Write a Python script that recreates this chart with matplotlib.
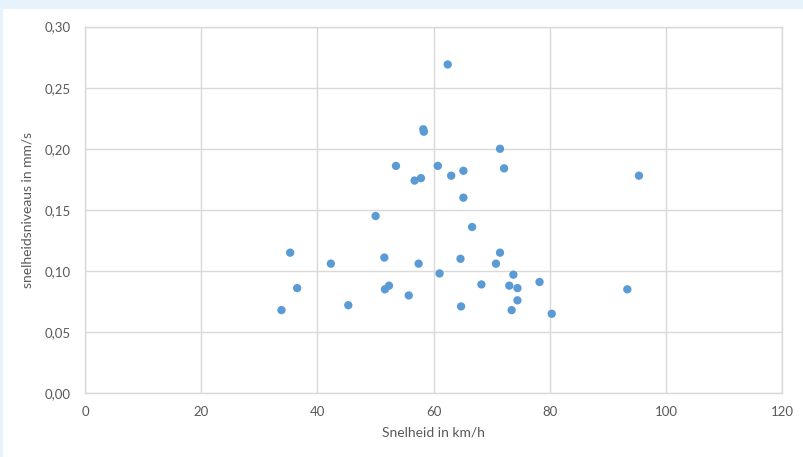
import matplotlib
matplotlib.use("Agg")
import matplotlib.pyplot as plt
from matplotlib.patches import Rectangle
from matplotlib.ticker import FuncFormatter

plt.rcParams['font.family'] = ['Lato', 'DejaVu Sans']

# snelheid (km/h) vs snelheidsniveau (mm/s)
speed_kmh = [33.8, 35.3, 36.5, 42.3, 45.3, 50.0, 51.5, 51.6, 52.3, 55.7,
             57.4, 56.7, 57.8, 58.2, 58.3, 53.5, 62.4, 60.7, 61.0, 63.0,
             65.1, 65.1, 64.6, 64.7, 66.6, 68.2, 70.7, 71.4, 71.4, 72.1,
             73.7, 73.0, 74.4, 74.4, 73.4, 78.2, 80.3, 93.3, 95.3]
level_mms = [0.068, 0.115, 0.086, 0.106, 0.072, 0.145, 0.111, 0.085, 0.088, 0.080,
             0.106, 0.174, 0.176, 0.216, 0.214, 0.186, 0.269, 0.186, 0.098, 0.178,
             0.182, 0.160, 0.110, 0.071, 0.136, 0.089, 0.106, 0.115, 0.200, 0.184,
             0.097, 0.088, 0.086, 0.076, 0.068, 0.091, 0.065, 0.085, 0.178]

x_ticks = [0, 20, 40, 60, 80, 100, 120]
y_ticks = [0.00, 0.05, 0.10, 0.15, 0.20, 0.25, 0.30]

W, H = 804, 457
fig = plt.figure(figsize=(W / 100, H / 100), dpi=100)
fig.patch.set_facecolor("#e6f3fd")
# white chart panel, kept behind the axes
fig.patches.append(Rectangle((3 / W, 0), 1 - 3 / W, 1 - 9 / H, transform=fig.transFigure,
                             facecolor="white", edgecolor="none", zorder=-10))

ax = fig.add_axes([85 / W, 1 - 393.2 / H, (782.5 - 85) / W, (393.2 - 26.6) / H])
ax.set_zorder(1)
ax.set_facecolor("white")
ax.scatter(speed_kmh, level_mms, s=36, color="#5b9bd5", edgecolors="none", zorder=3)

ax.set_xlim(0, 120)
ax.set_ylim(0, 0.30)
ax.set_xticks(x_ticks)
ax.set_yticks(y_ticks)
ax.yaxis.set_major_formatter(FuncFormatter(lambda v, p: f"{v:.2f}".replace(".", ",")))
ax.grid(True, color="#d9d9d9", linewidth=1.0)
ax.set_axisbelow(True)
for sp in ax.spines.values():
    sp.set_color("#d9d9d9")
    sp.set_linewidth(1.0)
ax.tick_params(axis="x", length=0, colors="#595959", labelsize=9.5, pad=9)
ax.tick_params(axis="y", length=0, colors="#595959", labelsize=9.5, pad=10)
ax.set_xlabel("Snelheid in km/h", color="#595959", fontsize=10, labelpad=6)
ax.set_ylabel("snelheidsniveaus in mm/s", color="#595959", fontsize=10, labelpad=8)

fig.savefig("out.png", dpi=100, facecolor=fig.get_facecolor())
